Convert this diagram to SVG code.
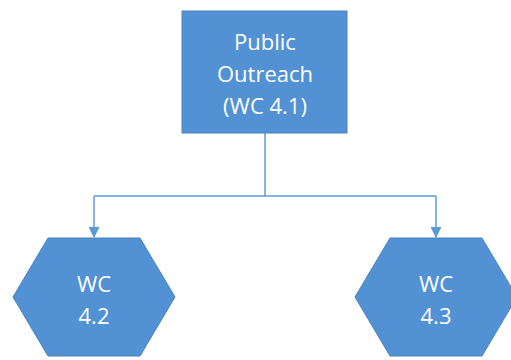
<svg xmlns="http://www.w3.org/2000/svg" width="511" height="360" viewBox="0 0 511 360">
<style>
.shape{fill:#5291d3;stroke:#4a82bd;stroke-width:1}
.lbl{font-family:"Open Sans","Liberation Sans",sans-serif;font-size:22px;fill:#ffffff;text-anchor:middle}
.conn{fill:none;stroke:#5b9bd5;stroke-width:1.5}
</style>
<defs>
<marker id="arr" markerWidth="11" markerHeight="11" refX="10" refY="5.5" orient="auto" markerUnits="userSpaceOnUse">
<path d="M0,0 L11,5.5 L0,11 Z" fill="#5b9bd5"/>
</marker>
</defs>
<rect width="511" height="360" fill="#ffffff"/>
<g id="connectors">
<path class="conn" d="M265,133 V196"/>
<path class="conn" d="M94,196 H436"/>
<path class="conn" d="M94,196 V237" marker-end="url(#arr)"/>
<path class="conn" d="M436,196 V237" marker-end="url(#arr)"/>
</g>
<g id="node-wc41">
<rect class="shape" x="182" y="11" width="165" height="122"/>
<text class="lbl" x="265" y="50">Public</text>
<text class="lbl" x="265" y="82">Outreach</text>
<text class="lbl" x="265" y="114">(WC 4.1)</text>
</g>
<g id="node-wc42">
<polygon class="shape" points="48,238 140,238 175,297 140,356 48,356 13,297"/>
<text class="lbl" x="94" y="292">WC</text>
<text class="lbl" x="94" y="324">4.2</text>
</g>
<g id="node-wc43">
<polygon class="shape" points="390,238 482,238 517,297 482,356 390,356 355,297"/>
<text class="lbl" x="436" y="292">WC</text>
<text class="lbl" x="436" y="324">4.3</text>
</g>
</svg>
